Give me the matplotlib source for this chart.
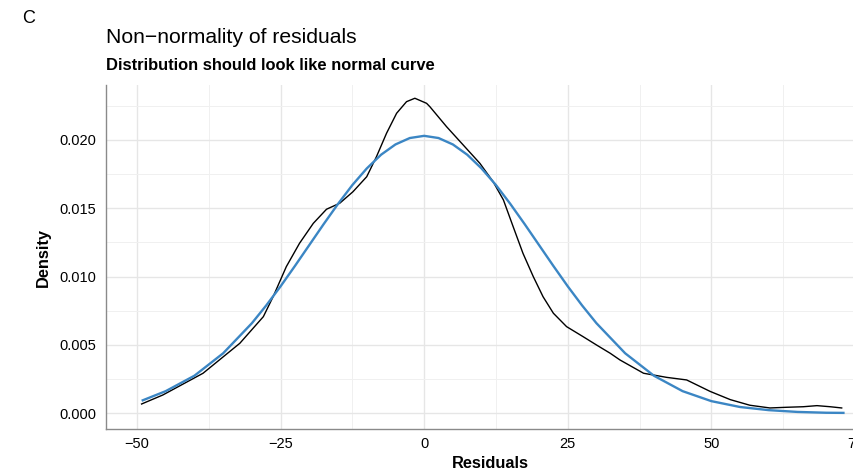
import matplotlib
matplotlib.use('Agg')
import matplotlib.pyplot as plt
from matplotlib.ticker import MultipleLocator, FixedLocator

plt.rcParams['font.family'] = ['Liberation Sans', 'DejaVu Sans']

# kernel density of the residuals (black curve)
kde_x = [-49.2, -45.5, -38.5, -32.1, -28.0, -26.3, -24.0, -21.7, -19.3, -17.0,
         -14.7, -12.4, -10.0, -8.3, -6.55, -4.8, -3.07, -1.62, 0.42, 1.0,
         3.9, 6.8, 9.7, 12.0, 13.8, 15.5, 17.2, 19.0, 20.7, 22.5,
         24.8, 27.7, 30.0, 32.4, 34.1, 38.2, 42.2, 45.7, 49.8, 53.3,
         56.7, 60.2, 63.1, 66.0, 68.4, 70.7, 72.7]
kde_y = [0.00068, 0.00134, 0.00293, 0.00512, 0.00707, 0.00853, 0.01073, 0.01244, 0.01390, 0.01493,
         0.01537, 0.01621, 0.01731, 0.01878, 0.02049, 0.02195, 0.02280, 0.02305, 0.02268, 0.02243,
         0.02097, 0.01963, 0.01829, 0.01695, 0.01561, 0.01365, 0.01171, 0.01000, 0.00853, 0.00732,
         0.00634, 0.00560, 0.00500, 0.00439, 0.00390, 0.00293, 0.00263, 0.00244, 0.00160, 0.00100,
         0.00059, 0.00039, 0.00044, 0.00048, 0.00056, 0.00048, 0.00039]

# normal reference curve (blue)
norm_x = [-49, -45, -40, -35, -30, -27.5, -25, -22.5, -20, -17.5, -15, -12.5, -10,
          -7.5, -5, -2.5, 0, 2.5, 5, 7.5, 10, 12.5, 15, 17.5, 20, 22.5, 25, 27.5,
          30, 35, 40, 45, 50, 55, 60, 65, 70, 73]
norm_y = [0.00095, 0.00162, 0.00275, 0.00439, 0.00659, 0.00789, 0.00929, 0.01078, 0.01231,
          0.01384, 0.01532, 0.01670, 0.01791, 0.01892, 0.01967, 0.02014, 0.02030, 0.02014,
          0.01967, 0.01892, 0.01791, 0.01670, 0.01532, 0.01384, 0.01231, 0.01078, 0.00929,
          0.00789, 0.00659, 0.00439, 0.00275, 0.00162, 0.00089, 0.00046, 0.00023, 0.00010,
          0.00004, 0.00003]

x_ticks = [-50, -25, 0, 25, 50, 75]
y_ticks = [0.000, 0.005, 0.010, 0.015, 0.020]

fig = plt.figure(figsize=(8.54, 4.73), dpi=100)
ax = fig.add_axes([0.1241, 0.0930, 0.9005, 0.7273])

ax.plot(kde_x, kde_y, color='black', lw=1.0, zorder=3)
ax.plot(norm_x, norm_y, color='#3b86c4', lw=1.7, zorder=4)

ax.set_xlim(-55.4, 78.5)
ax.set_ylim(-0.00115, 0.02402)

ax.xaxis.set_major_locator(FixedLocator(x_ticks))
ax.xaxis.set_minor_locator(MultipleLocator(12.5))
ax.yaxis.set_major_locator(FixedLocator(y_ticks))
ax.yaxis.set_minor_locator(MultipleLocator(0.0025))
ax.set_xticklabels([str(v).replace('-', '\u2212') for v in x_ticks])
ax.set_yticklabels(['%.3f' % v for v in y_ticks])

ax.grid(which='major', color='#e6e6e6', lw=1.0)
ax.grid(which='minor', color='#f0f0f0', lw=0.7)
ax.set_axisbelow(True)

ax.tick_params(which='both', length=0, labelsize=10.5, colors='black')
ax.tick_params(axis='y', pad=7)
ax.tick_params(axis='x', pad=6)

for side in ['top', 'right']:
    ax.spines[side].set_visible(False)
for side in ['left', 'bottom']:
    ax.spines[side].set_color('#8a8a8a')
    ax.spines[side].set_linewidth(1.0)

ax.set_xlabel('Residuals', fontsize=11.8, fontweight='bold', va='center')
ax.xaxis.set_label_coords(0.5, -0.099)
ax.set_ylabel('Density', fontsize=11.8, fontweight='bold', va='center')
ax.yaxis.set_label_coords(-0.082, 0.5)

fig.text(0.026, 0.951, 'C', fontsize=13, va='baseline', ha='left')
fig.text(0.1241, 0.909, 'Non\u2212normality of residuals', fontsize=15.2, va='baseline', ha='left')
fig.text(0.1241, 0.852, 'Distribution should look like normal curve', fontsize=11.9,
         fontweight='bold', va='baseline', ha='left')

fig.savefig('out.png', dpi=100)
